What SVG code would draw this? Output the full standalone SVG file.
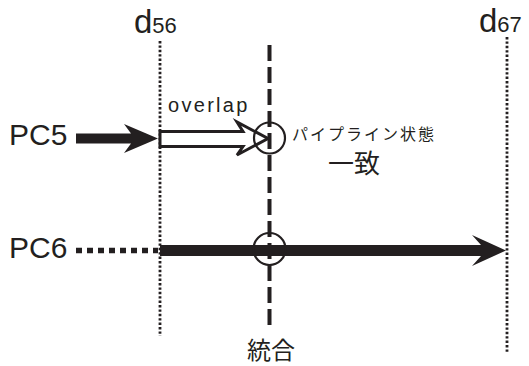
<svg xmlns="http://www.w3.org/2000/svg" width="529" height="366" viewBox="0 0 529 366">
<style>
.lat{font-family:"Liberation Sans",Arial,sans-serif;fill:#231f20}
.jp{font-family:"Noto Sans CJK JP","Noto Sans CJK SC",sans-serif;fill:#231f20}
.dot{stroke:#231f20;stroke-width:2.8;stroke-dasharray:2.4 2;fill:none}
.blk{fill:#231f20}
.ring{fill:none;stroke:#231f20;stroke-width:2.2}
</style>
<rect width="529" height="366" fill="#fff"/>
<g id="d56">
<line class="dot" x1="160" y1="41" x2="160" y2="336"/>
<text class="lat" x="134" y="33"><tspan font-size="33">d</tspan><tspan font-size="22">56</tspan></text>
</g>
<g id="d67">
<line class="dot" x1="507" y1="37" x2="507" y2="352"/>
<text class="lat" x="479" y="32"><tspan font-size="33">d</tspan><tspan font-size="22">67</tspan></text>
</g>
<g id="merge">
<line x1="269.5" y1="45" x2="269.5" y2="325" stroke="#231f20" stroke-width="4" stroke-dasharray="16 6"/>
<text class="jp" x="271" y="359" font-size="24" text-anchor="middle">統合</text>
</g>
<g id="pc5">
<text class="lat" x="9" y="145" font-size="30">PC5</text>
</g>
<g id="pc6">
<text class="lat" x="9" y="258" font-size="30">PC6</text>
</g>
<g id="connectors">
<path class="blk" d="M76,133.5 H131 L124,124 L158,138.5 L124,153 L131,143.5 H76 Z"/>
<path d="M160,131.5 H243 L237,122 L268,138.5 L237,155 L243,146.5 H160 Z" fill="#fff" stroke="#231f20" stroke-width="3" stroke-linejoin="miter"/>
<line x1="76" y1="250.5" x2="158" y2="250.5" stroke="#231f20" stroke-width="5.5" stroke-dasharray="6 5"/>
<path class="blk" d="M160,245 H481 L472,235 L506,250.5 L472,266 L481,256 H160 Z"/>
<circle class="ring" cx="269.5" cy="138" r="15.5"/>
<circle class="ring" cx="269.5" cy="249" r="16"/>
</g>
<g id="overlap">
<text class="lat" x="168" y="112" font-size="20" letter-spacing="2.3">overlap</text>
</g>
<g id="state">
<text class="jp" x="292" y="140" font-size="16" letter-spacing="2">パイプライン状態</text>
<text class="jp" x="328" y="173" font-size="26">一致</text>
</g>
</svg>
